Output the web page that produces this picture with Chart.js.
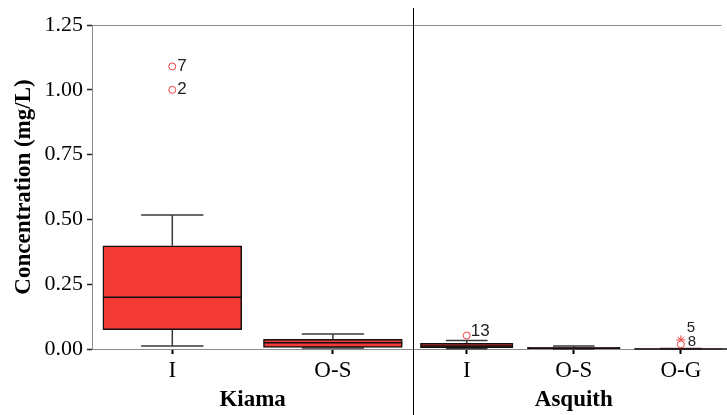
<!DOCTYPE html>
<html>
<head>
<meta charset="utf-8">
<script src="https://cdn.jsdelivr.net/npm/chart.js@4.4.1/dist/chart.umd.min.js"></script>
<style>
    html, body { margin: 0; padding: 0; background: #fff; }
    #wrap { width: 727px; height: 415px; }
</style>
</head>
<body>
<div id="wrap"><canvas id="mycanvas" width="727" height="415"></canvas></div>
<script>
// sites and sample types
var groups = ["Kiama", "Asquith"];
var categories = ["I", "O-S", "I", "O-S", "O-G"];
var groupOf = [0, 0, 1, 1, 1];

// box plot summary (mg/L)
var lowWhisker = [0.012, 0.004, 0.001, 0.000, 0.000];
var q1 = [0.075, 0.006, 0.005, 0.001, 0.000];
var median = [0.200, 0.024, 0.012, 0.003, 0.000];
var q3 = [0.398, 0.037, 0.022, 0.006, 0.001];
var highWhisker = [0.517, 0.058, 0.033, 0.012, 0.002];

// outliers: category index, value, case number, extreme (star) or not
var outCat = [0, 0, 2, 4, 4];
var outVal = [1.09, 1.00, 0.052, 0.035, 0.018];
var outCase = ["7", "2", "13", "5", "8"];
var outExtreme = [false, false, false, true, false];

var yTicks = [0, 0.25, 0.5, 0.75, 1.0, 1.25];

// each site gets a panel of equal width, split between its categories
var panel = 324;
function slotWidth(i) {
    var g = groupOf[i];
    var n = groupOf.filter(function (x) { return x === g; }).length;
    return panel / n;
}
function centerOf(i) {
    var g = groupOf[i];
    var k = 0;
    for (var j = 0; j < i; j++) if (groupOf[j] === g) k++;
    return g * panel + (k + 0.5) * slotWidth(i);
}
var centers = categories.map(function (c, i) { return centerOf(i); });

var boxRed = "#F43A35";
var axisGray = "#8c8c8c";
var serif = "'Liberation Serif', 'Times New Roman', serif";

function boxData(g) {
    var out = [];
    for (var i = 0; i < categories.length; i++) {
        if (groupOf[i] === g) out.push({ x: centers[i], y: [q1[i], q3[i]] });
    }
    return out;
}

var circles = [], stars = [];
for (var i = 0; i < outVal.length; i++) {
    var p = { x: centers[outCat[i]], y: outVal[i] };
    if (outExtreme[i]) stars.push(p); else circles.push(p);
}

var boxDecor = {
    id: "boxDecor",
    beforeDatasetsDraw: function (chart) {
        var ctx = chart.ctx, xs = chart.scales.x, ys = chart.scales.y;
        ctx.save();
        ctx.strokeStyle = "#3a3a3a";
        ctx.lineWidth = 1.5;
        for (var i = 0; i < categories.length; i++) {
            var cx = xs.getPixelForValue(centers[i]);
            var cap = slotWidth(i) * 0.385 / 2;
            var yHi = ys.getPixelForValue(highWhisker[i]);
            var yLo = ys.getPixelForValue(lowWhisker[i]);
            ctx.beginPath();
            ctx.moveTo(cx, ys.getPixelForValue(q3[i]));
            ctx.lineTo(cx, yHi);
            ctx.moveTo(cx - cap, yHi);
            ctx.lineTo(cx + cap, yHi);
            ctx.moveTo(cx, ys.getPixelForValue(q1[i]));
            ctx.lineTo(cx, yLo);
            ctx.moveTo(cx - cap, yLo);
            ctx.lineTo(cx + cap, yLo);
            ctx.stroke();
        }
        ctx.restore();
    },
    afterDatasetsDraw: function (chart) {
        var ctx = chart.ctx, xs = chart.scales.x, ys = chart.scales.y;
        var area = chart.chartArea;
        ctx.save();
        // medians
        ctx.strokeStyle = "#111";
        ctx.lineWidth = 1.5;
        for (var i = 0; i < categories.length; i++) {
            var cx = xs.getPixelForValue(centers[i]);
            var half = slotWidth(i) * 0.857 / 2;
            var ym = ys.getPixelForValue(median[i]);
            ctx.beginPath();
            ctx.moveTo(cx - half, ym);
            ctx.lineTo(cx + half, ym);
            ctx.stroke();
        }
        // case numbers next to outliers
        var offs = [[5, 0, 17], [5, 0, 17], [4, -4, 17], [6, -12, 15], [7, -2, 15]];
        ctx.fillStyle = "#222";
        ctx.textAlign = "left";
        ctx.textBaseline = "middle";
        for (var j = 0; j < outVal.length; j++) {
            var px = xs.getPixelForValue(centers[outCat[j]]);
            var py = ys.getPixelForValue(outVal[j]);
            ctx.font = offs[j][2] + "px 'Liberation Sans', Arial, sans-serif";
            ctx.fillText(outCase[j], px + offs[j][0], py + offs[j][1]);
        }
        // frame line on top
        ctx.strokeStyle = axisGray;
        ctx.lineWidth = 1;
        ctx.beginPath();
        ctx.moveTo(area.left, area.top + 0.5);
        ctx.lineTo(area.right, area.top + 0.5);
        ctx.stroke();
        // panel divider
        var dx = Math.round(xs.getPixelForValue(panel)) + 0.5;
        ctx.strokeStyle = "#000";
        ctx.beginPath();
        ctx.moveTo(dx, 8);
        ctx.lineTo(dx, chart.height);
        ctx.stroke();
        // site names
        ctx.fillStyle = "#000";
        ctx.textAlign = "center";
        ctx.font = "bold 23px " + serif;
        for (var g = 0; g < groups.length; g++) {
            ctx.fillText(groups[g], xs.getPixelForValue(g * panel + panel / 2), 400);
        }
        ctx.restore();
    }
};

var ctx = document.getElementById("mycanvas");

var chart = new Chart(ctx, {
    type: "bar",
    data: {
        datasets: [
            {
                label: "Kiama",
                data: boxData(0),
                backgroundColor: boxRed,
                borderColor: "#111",
                borderWidth: 1.5,
                borderSkipped: false,
                barThickness: slotWidth(0) * 0.857,
                grouped: false
            },
            {
                label: "Asquith",
                data: boxData(1),
                backgroundColor: boxRed,
                borderColor: "#111",
                borderWidth: 1.5,
                borderSkipped: false,
                barThickness: slotWidth(2) * 0.857,
                grouped: false
            },
            {
                type: "scatter",
                label: "outliers",
                data: circles,
                pointStyle: "circle",
                pointRadius: 3.5,
                pointBorderWidth: 1,
                pointBorderColor: "#f04040",
                pointBackgroundColor: "#fff"
            },
            {
                type: "scatter",
                label: "extremes",
                data: stars,
                pointStyle: "star",
                pointRadius: 4.5,
                pointBorderWidth: 1,
                pointBorderColor: "#f04040",
                pointBackgroundColor: "#fff"
            }
        ]
    },
    options: {
        responsive: false,
        animation: false,
        devicePixelRatio: 1,
        layout: { padding: { top: 25, right: 0, bottom: 0, left: 0 } },
        plugins: { legend: { display: false }, tooltip: { enabled: false } },
        scales: {
            x: {
                type: "linear",
                min: 0,
                max: 635,
                offset: false,
                grid: { drawOnChartArea: false, drawTicks: true, tickLength: 5, tickWidth: 2, tickColor: "#000", offset: false },
                border: { color: axisGray, width: 1 },
                ticks: {
                    autoSkip: false,
                    maxRotation: 0,
                    padding: 3,
                    color: "#000",
                    font: { family: serif, size: 23 },
                    callback: function (v, i) { return categories[i]; }
                },
                afterBuildTicks: function (s) {
                    s.ticks = centers.map(function (v) { return { value: v }; });
                },
                afterFit: function (s) { s.height = 66; }
            },
            y: {
                min: 0,
                max: 1.25,
                grid: { drawOnChartArea: false, drawTicks: true, tickLength: 5, tickWidth: 1.5, tickColor: "#222" },
                border: { color: axisGray, width: 1 },
                ticks: {
                    padding: 4,
                    color: "#000",
                    font: { family: serif, size: 22 },
                    callback: function (v) { return v.toFixed(2); }
                },
                afterBuildTicks: function (s) {
                    s.ticks = yTicks.map(function (v) { return { value: v }; });
                },
                title: {
                    display: true,
                    text: "Concentration (mg/L)",
                    color: "#000",
                    font: { family: serif, size: 23, weight: "bold" },
                    padding: { top: 10, bottom: 0 }
                },
                afterFit: function (s) { s.width = 92; }
            }
        }
    },
    plugins: [boxDecor]
});
</script>
</body>
</html>
